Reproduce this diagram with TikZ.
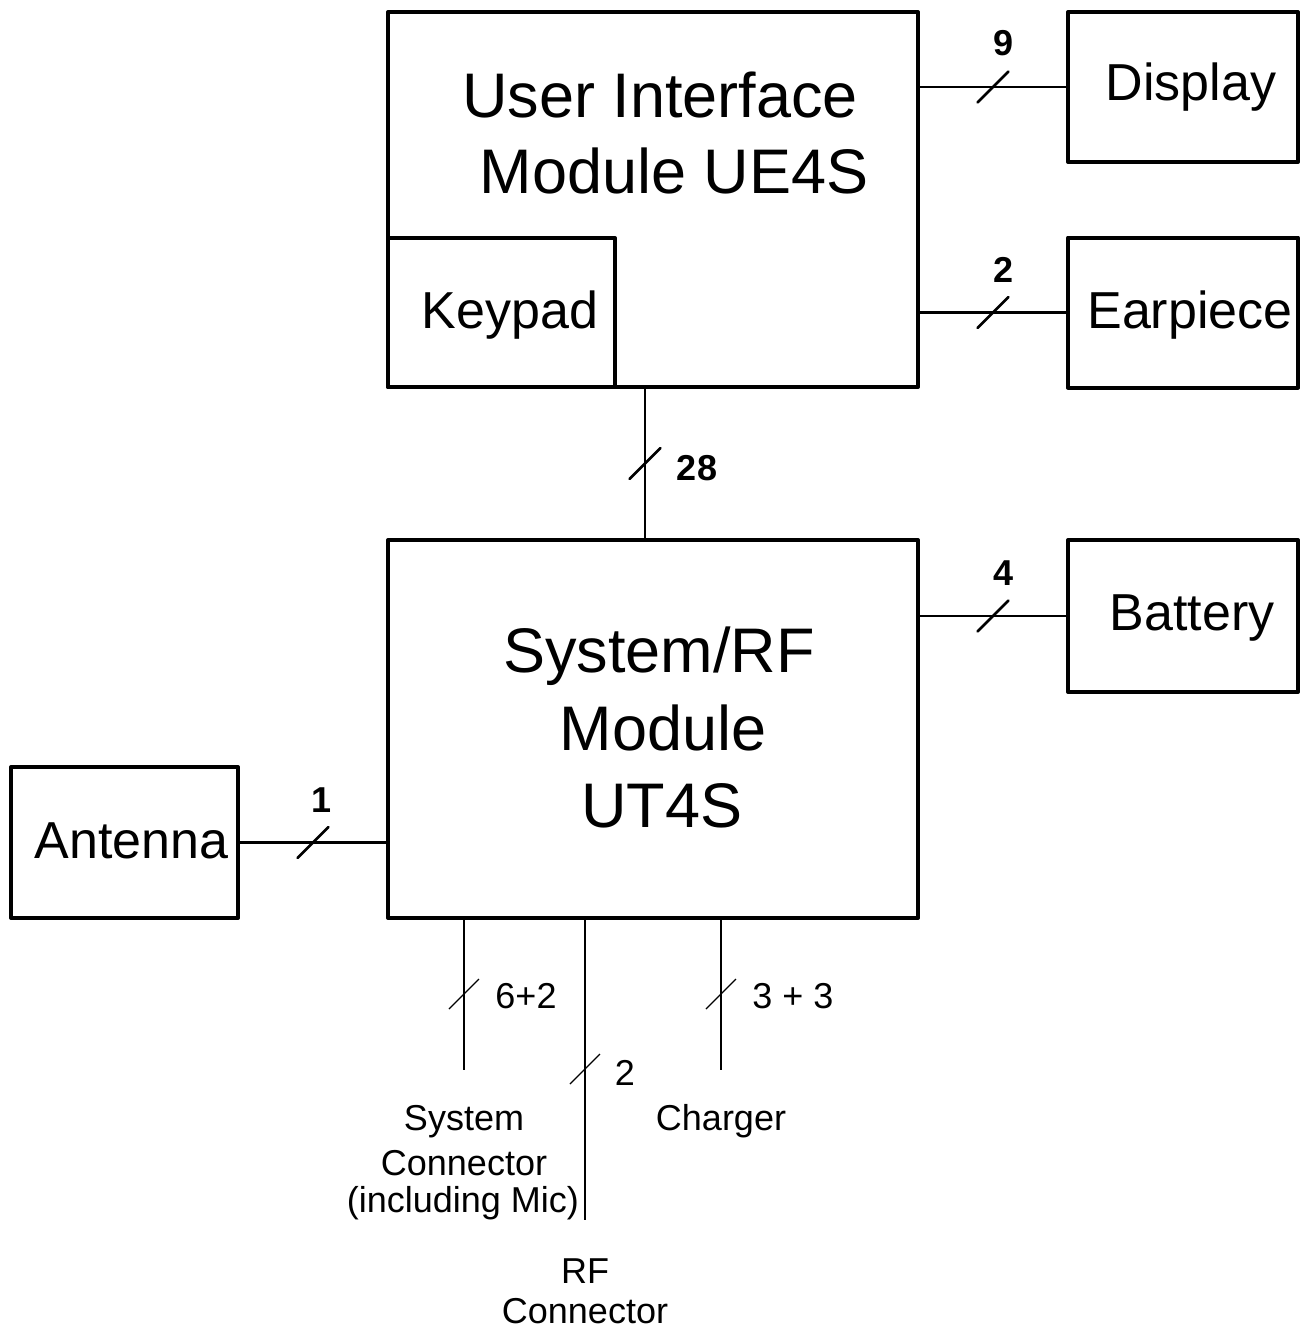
\documentclass[tikz,border=0pt]{standalone}
\usepackage{fontspec}
\setmainfont{Liberation Sans}
\usetikzlibrary{calc}
\begin{document}
\begin{tikzpicture}[x=1pt,y=-1pt,
  box/.style={draw, line width=4pt, line join=round, inner sep=0pt, outer sep=0pt},
  conn/.style={line width=2.7pt},
  thinconn/.style={line width=1.2pt},
  slashmark/.style={line width=2.7pt, line cap=round},
  thinslash/.style={line width=1.2pt},
  big/.style={inner sep=0pt, anchor=base, font=\fontsize{63}{70}\selectfont},
  mid/.style={inner sep=0pt, anchor=base, font=\fontsize{52}{60}\selectfont},
  num/.style={inner sep=0pt, anchor=base, font=\fontsize{36}{40}\selectfont\bfseries},
  small/.style={inner sep=0pt, anchor=base, font=\fontsize{36}{40}\selectfont},
]
\useasboundingbox (0,0) rectangle (1308,1333);

% boxes
\node[box, minimum width=530pt, minimum height=375pt] (ui) at (653,199.5) {};
\node[box, minimum width=227pt, minimum height=149pt] (keypad) at (501.5,312.5) {};
\node[box, minimum width=230pt, minimum height=150pt] (display) at (1183,87) {};
\node[box, minimum width=230pt, minimum height=150pt] (earpiece) at (1183,312.5) {};
\node[box, minimum width=530pt, minimum height=378pt] (sys) at (653,729) {};
\node[box, minimum width=230pt, minimum height=152pt] (battery) at (1183,616) {};
\node[box, minimum width=227pt, minimum height=151pt] (antenna) at (124.5,842.5) {};

% box texts
\node[big] (uit1) at (660,117) {User Interface};
\node[big] (uit2) at (674,193) {Module UE4S};
\node[mid] (keyt) at (510,328) {Keypad};
\node[mid] (dispt) at (1191,100) {Display};
\node[mid] (eart) at (1190,328) {Earpiece};
\node[big] (syst1) at (659,672) {System/RF};
\node[big] (syst2) at (663,750) {Module};
\node[big] (syst3) at (662,827) {UT4S};
\node[mid] (batt) at (1192,630) {Battery};
\node[mid] (antt) at (131.5,858) {Antenna};

% thick connectors with bus slashes
\draw[conn] (ui.east |- display.west) -- (display.west);
\coordinate (m9) at ($(ui.east |- display.west)!0.5!(display.west)$);
\draw[slashmark] (m9) +(-15.5,15.5) -- +(15.5,-15.5);
\node[num] (l9) at (1003,55) {9};

\draw[conn] (ui.east |- earpiece.west) -- (earpiece.west);
\coordinate (m2) at ($(ui.east |- earpiece.west)!0.5!(earpiece.west)$);
\draw[slashmark] (m2) +(-15.5,15.5) -- +(15.5,-15.5);
\node[num] (l2) at (1003,282) {2};

\coordinate (tap) at (645,0);
\draw[conn] (ui.south -| tap) -- (sys.north -| tap);
\coordinate (m28) at ($(ui.south -| tap)!0.5!(sys.north -| tap)$);
\draw[slashmark] (m28) +(-15.5,15.5) -- +(15.5,-15.5);
\node[num] (l28) at (697,480) {28};

\draw[conn] (sys.east |- battery.west) -- (battery.west);
\coordinate (m4) at ($(sys.east |- battery.west)!0.5!(battery.west)$);
\draw[slashmark] (m4) +(-15.5,15.5) -- +(15.5,-15.5);
\node[num] (l4) at (1003,585) {4};

\draw[conn] (antenna.east) -- (sys.west |- antenna.east);
\coordinate (m1) at ($(antenna.east)!0.5!(sys.west |- antenna.east)$);
\draw[slashmark] (m1) +(-15.5,15.5) -- +(15.5,-15.5);
\node[num] (l1) at (322,812) {1};

% thin connectors at the bottom
\coordinate (sysconEnd) at (464,1070);
\draw[thinconn] (sys.south -| sysconEnd) -- (sysconEnd);
\coordinate (ms) at ($(sys.south -| sysconEnd)!0.5!(sysconEnd)$);
\draw[thinslash] (ms) +(-15,15) -- +(15,-15);
\node[small] (l62) at (526,1008) {6+2};

\coordinate (rfEnd) at (585,1220);
\draw[thinconn] (sys.south -| rfEnd) -- (rfEnd);
\coordinate (mr) at ($(sys.south -| rfEnd)!0.5!(rfEnd)$);
\draw[thinslash] (mr) +(-15,15) -- +(15,-15);
\node[small] (lrf) at (625,1085) {2};

\coordinate (chEnd) at (721,1070);
\draw[thinconn] (sys.south -| chEnd) -- (chEnd);
\coordinate (mc) at ($(sys.south -| chEnd)!0.5!(chEnd)$);
\draw[thinslash] (mc) +(-15,15) -- +(15,-15);
\node[small] (l33) at (793,1008) {3 + 3};

% bottom labels
\node[small] (sc1) at (464,1130) {System};
\node[small] (sc2) at (464,1175) {Connector};
\node[small] (sc3) at (463,1212) {(including Mic)};
\node[small] (chl) at (721,1130) {Charger};
\node[small] (rf1) at (585,1283) {RF};
\node[small] (rf2) at (585,1323) {Connector};
\end{tikzpicture}
\end{document}
